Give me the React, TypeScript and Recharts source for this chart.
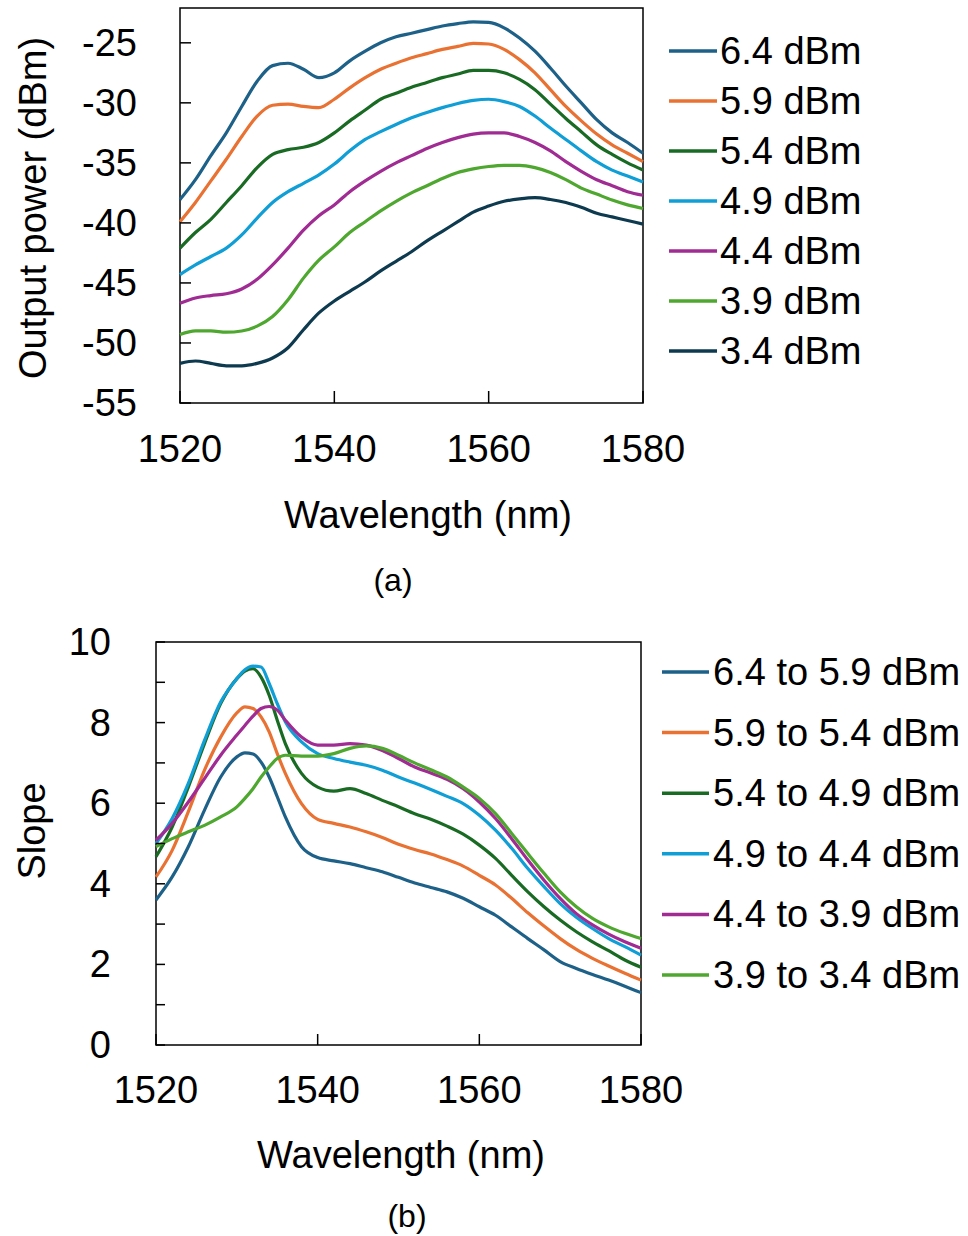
import React from 'react';
import { LineChart, Line, XAxis, YAxis, ReferenceArea, Legend } from 'recharts';

const FONT = '"Liberation Sans", Arial, Helvetica, sans-serif';

// ---- (a) output power vs wavelength ----
const wavelengthA = [
  1520, 1522, 1524, 1526, 1528, 1530, 1532, 1534, 1536, 1538, 1540, 1542, 1544, 1546, 1548, 1550,
  1552, 1554, 1556, 1558, 1560, 1562, 1564, 1566, 1568, 1570, 1572, 1574, 1576, 1578, 1580,
];
const power64 = [
  -38.06, -36.4, -34.4, -32.5, -30.3, -28.2, -26.9, -26.7, -27.2, -27.9, -27.5, -26.5, -25.7, -25.0, -24.5, -24.2,
  -23.9, -23.6, -23.4, -23.25, -23.3, -23.75, -24.6, -25.7, -27.1, -28.6, -30.0, -31.4, -32.5, -33.3, -34.2,
];
const power59 = [
  -39.9, -38.3, -36.5, -34.7, -32.8, -31.1, -30.2, -30.1, -30.3, -30.4, -29.7, -28.75, -27.9, -27.2, -26.7, -26.25,
  -25.9, -25.55, -25.3, -25.05, -25.1, -25.55, -26.4, -27.5, -28.9, -30.3, -31.5, -32.6, -33.5, -34.2, -34.9,
];
const power54 = [
  -42.1, -40.8, -39.7, -38.3, -36.9, -35.4, -34.3, -33.9, -33.7, -33.3, -32.5, -31.5, -30.6, -29.7, -29.2, -28.7,
  -28.3, -27.9, -27.6, -27.3, -27.3, -27.5, -28.05, -28.9, -30.1, -31.3, -32.4, -33.5, -34.3, -35.0, -35.6,
];
const power49 = [
  -44.3, -43.5, -42.8, -42.1, -41.0, -39.6, -38.3, -37.4, -36.7, -36.0, -35.1, -34.0, -33.05, -32.4, -31.8, -31.25,
  -30.8, -30.4, -30.05, -29.8, -29.7, -29.9, -30.3, -31.1, -32.1, -33.05, -34.0, -34.9, -35.6, -36.1, -36.6,
];
const power44 = [
  -46.7, -46.25, -46.05, -45.9, -45.5, -44.7, -43.5, -42.1, -40.6, -39.4, -38.5, -37.4, -36.5, -35.7, -35.0, -34.4,
  -33.8, -33.3, -32.9, -32.6, -32.5, -32.5, -32.8, -33.3, -34.0, -34.9, -35.7, -36.4, -36.9, -37.4, -37.7,
];
const power39 = [
  -49.3, -49.0, -49.0, -49.1, -49.0, -48.6, -47.8, -46.4, -44.6, -43.1, -42.0, -40.8, -39.9, -39.0, -38.2, -37.5,
  -36.9, -36.3, -35.8, -35.5, -35.3, -35.2, -35.2, -35.4, -35.8, -36.4, -37.1, -37.6, -38.1, -38.5, -38.8,
];
const power34 = [
  -51.7, -51.5, -51.7, -51.9, -51.9, -51.7, -51.25, -50.4, -48.9, -47.5, -46.5, -45.7, -44.9, -44.0, -43.2, -42.4,
  -41.5, -40.7, -39.9, -39.1, -38.6, -38.2, -38.0, -37.9, -38.05, -38.3, -38.7, -39.2, -39.5, -39.8, -40.1,
];
const powerNames = ['6.4 dBm', '5.9 dBm', '5.4 dBm', '4.9 dBm', '4.4 dBm', '3.9 dBm', '3.4 dBm'];
const powerValues = [power64, power59, power54, power49, power44, power39, power34];
const powerTicksX = [1520, 1540, 1560, 1580];
const powerTicksY = [-55, -50, -45, -40, -35, -30, -25];

// ---- (b) slope vs wavelength ----
const wavelengthB = [
  1520, 1522, 1524, 1526, 1528, 1530, 1531, 1532, 1533, 1534, 1535, 1536, 1538, 1540, 1542, 1544, 1546,
  1548, 1550, 1552, 1554, 1556, 1558, 1560, 1562, 1564, 1566, 1568, 1570, 1572, 1574, 1576, 1578, 1580,
];
const slope64to59 = [
  3.6, 4.17, 4.92, 5.83, 6.65, 7.15, 7.25, 7.22, 7.02, 6.65, 6.16, 5.66, 4.92, 4.65, 4.57, 4.5, 4.4,
  4.3, 4.16, 4.02, 3.91, 3.8, 3.64, 3.43, 3.22, 2.93, 2.64, 2.36, 2.07, 1.9, 1.75, 1.61, 1.46, 1.3,
];
const slope59to54 = [
  4.17, 4.83, 5.79, 6.82, 7.64, 8.24, 8.39, 8.35, 8.14, 7.77, 7.23, 6.74, 5.99, 5.6, 5.5, 5.41, 5.29,
  5.15, 4.98, 4.85, 4.74, 4.6, 4.44, 4.21, 3.97, 3.64, 3.28, 2.95, 2.64, 2.37, 2.15, 1.96, 1.78, 1.61,
];
const slope54to49 = [
  4.67, 5.41, 6.4, 7.48, 8.47, 9.09, 9.28, 9.34, 9.13, 8.68, 8.06, 7.48, 6.74, 6.4, 6.3, 6.36, 6.24,
  6.07, 5.91, 5.74, 5.6, 5.43, 5.23, 4.96, 4.63, 4.21, 3.8, 3.43, 3.1, 2.81, 2.56, 2.34, 2.11, 1.93,
];
const slope49to44 = [
  5.0, 5.62, 6.49, 7.56, 8.51, 9.09, 9.31, 9.4, 9.38, 8.97, 8.47, 8.02, 7.52, 7.23, 7.11, 7.02, 6.94,
  6.82, 6.65, 6.5, 6.34, 6.17, 5.99, 5.7, 5.33, 4.88, 4.38, 3.93, 3.51, 3.17, 2.89, 2.64, 2.44, 2.23,
];
const slope44to39 = [
  5.08, 5.5, 6.03, 6.61, 7.19, 7.69, 7.93, 8.16, 8.35, 8.4, 8.31, 8.06, 7.64, 7.44, 7.44, 7.48, 7.44,
  7.31, 7.11, 6.9, 6.75, 6.59, 6.36, 6.03, 5.62, 5.12, 4.59, 4.09, 3.64, 3.26, 2.98, 2.75, 2.56, 2.4,
];
const slope39to34 = [
  4.92, 5.12, 5.29, 5.45, 5.66, 5.91, 6.12, 6.36, 6.65, 6.9, 7.11, 7.19, 7.17, 7.17, 7.23, 7.36, 7.42,
  7.36, 7.19, 7.0, 6.83, 6.65, 6.4, 6.12, 5.74, 5.25, 4.75, 4.26, 3.8, 3.43, 3.14, 2.93, 2.77, 2.64,
];
const slopeNames = [
  '6.4 to 5.9 dBm', '5.9 to 5.4 dBm', '5.4 to 4.9 dBm',
  '4.9 to 4.4 dBm', '4.4 to 3.9 dBm', '3.9 to 3.4 dBm',
];
const slopeValues = [slope64to59, slope59to54, slope54to49, slope49to44, slope44to39, slope39to34];
const slopeTicksX = [1520, 1540, 1560, 1580];
const slopeTicksY = [0, 1, 2, 3, 4, 5, 6, 7, 8, 9, 10];

const colors = ['#1d6189', '#e97132', '#196b24', '#0f9ed5', '#a02b93', '#4ea72e', '#0e3a50'];

const powerData = wavelengthA.map((w, i) => {
  const row: any = { w };
  powerValues.forEach((v, s) => (row['s' + s] = v[i]));
  return row;
});
const slopeData = wavelengthB.map((w, i) => {
  const row: any = { w };
  slopeValues.forEach((v, s) => (row['s' + s] = v[i]));
  return row;
});

const txt = { fontSize: 38, fontFamily: FONT, fill: '#000' };

const xTick = (plotBottom: number, labelY: number, len: number) => (p: any) => (
  <g>
    <line x1={p.x} x2={p.x} y1={plotBottom} y2={plotBottom - len} stroke="#000" strokeWidth={1.5} />
    <text x={p.x} y={labelY} textAnchor="middle" dominantBaseline="central" {...txt}>
      {p.payload.value}
    </text>
  </g>
);

const yTick = (plotLeft: number, labelRight: number, len: number, showLabel: (v: number) => boolean) => (p: any) => (
  <g>
    <line x1={plotLeft} x2={plotLeft + len} y1={p.y} y2={p.y} stroke="#000" strokeWidth={1.5} />
    {showLabel(p.payload.value) && (
      <text x={labelRight} y={p.y} textAnchor="end" dominantBaseline="central" {...txt}>
        {p.payload.value}
      </text>
    )}
  </g>
);

// legend keeps the series order of the names list
const legendBox = (names: string[], firstY: number, gap: number, x1: number, x2: number, textX: number) => (props: any) => {
  const items = [...(props.payload || [])].sort((a: any, b: any) => names.indexOf(a.value) - names.indexOf(b.value));
  return (
    <svg width={328} height={firstY + gap * items.length} style={{ display: 'block', overflow: 'visible' }}>
      {items.map((it: any, i: number) => (
        <g key={it.value}>
          <line x1={x1} x2={x2} y1={firstY + gap * i} y2={firstY + gap * i} stroke={it.color} strokeWidth={3.5} />
          <text x={textX} y={firstY + gap * i} dominantBaseline="central" {...txt}>
            {it.value}
          </text>
        </g>
      ))}
    </svg>
  );
};

const Title = ({ x, y, size = 38, rotate = false, children }: any) => (
  <div
    style={{
      position: 'absolute',
      left: x,
      top: y,
      transform: `translate(-50%, -50%)${rotate ? ' rotate(-90deg)' : ''}`,
      fontSize: size,
      fontFamily: FONT,
      lineHeight: 1,
      whiteSpace: 'nowrap',
      color: '#000',
    }}
  >
    {children}
  </div>
);

export default function App() {
  return (
    <div style={{ position: 'absolute', left: 0, top: 0, width: 968, height: 1236, background: '#fff' }}>
      {/* (a) */}
      <div style={{ position: 'absolute', left: 0, top: 0 }}>
        <LineChart width={968} height={490} data={powerData} margin={{ top: 8, right: 325, bottom: 47, left: 80 }}>
          <XAxis
            dataKey="w"
            type="number"
            domain={[1520, 1580]}
            ticks={powerTicksX}
            axisLine={false}
            tickLine={false}
            height={40}
            tick={xTick(403, 449, 12)}
          />
          <YAxis
            type="number"
            domain={[-55, -22.1]}
            ticks={powerTicksY}
            allowDataOverflow
            axisLine={false}
            tickLine={false}
            width={100}
            tick={yTick(180, 137, 11, () => true)}
          />
          <ReferenceArea x1={1520} x2={1580} y1={-55} y2={-22.1} fill="none" stroke="#000" strokeWidth={1.5} />
          {powerNames.map((n, s) => (
            <Line
              key={n}
              dataKey={'s' + s}
              name={n}
              type="monotone"
              stroke={colors[s]}
              strokeWidth={3.2}
              dot={false}
              isAnimationActive={false}
            />
          ))}
          <Legend
            layout="vertical"
            align="center"
            verticalAlign="middle"
            wrapperStyle={{ left: 640, top: 0, width: 328 }}
            content={legendBox(powerNames, 51, 50, 29, 77, 80)}
          />
        </LineChart>
      </div>
      <Title x={428} y={515}>Wavelength (nm)</Title>
      <Title x={33} y={208} rotate>Output power (dBm)</Title>
      <Title x={393} y={580} size={32}>(a)</Title>

      {/* (b) */}
      <div style={{ position: 'absolute', left: 0, top: 600 }}>
        <LineChart width={968} height={540} data={slopeData} margin={{ top: 42, right: 327, bottom: 55, left: 56 }}>
          <XAxis
            dataKey="w"
            type="number"
            domain={[1520, 1580]}
            ticks={slopeTicksX}
            axisLine={false}
            tickLine={false}
            height={40}
            tick={xTick(445, 490, 11)}
          />
          <YAxis
            type="number"
            domain={[0, 10]}
            ticks={slopeTicksY}
            axisLine={false}
            tickLine={false}
            width={100}
            tick={yTick(156, 111, 9, (v) => v % 2 === 0)}
          />
          <ReferenceArea x1={1520} x2={1580} y1={0} y2={10} fill="none" stroke="#000" strokeWidth={1.5} />
          {slopeNames.map((n, s) => (
            <Line
              key={n}
              dataKey={'s' + s}
              name={n}
              type="monotone"
              stroke={colors[s]}
              strokeWidth={3.2}
              dot={false}
              isAnimationActive={false}
            />
          ))}
          <Legend
            layout="vertical"
            align="center"
            verticalAlign="middle"
            wrapperStyle={{ left: 640, top: 0, width: 328 }}
            content={legendBox(slopeNames, 72, 60.6, 22, 69, 73)}
          />
        </LineChart>
      </div>
      <Title x={401} y={1155}>Wavelength (nm)</Title>
      <Title x={32} y={831} rotate>Slope</Title>
      <Title x={407} y={1216} size={32}>(b)</Title>
    </div>
  );
}
